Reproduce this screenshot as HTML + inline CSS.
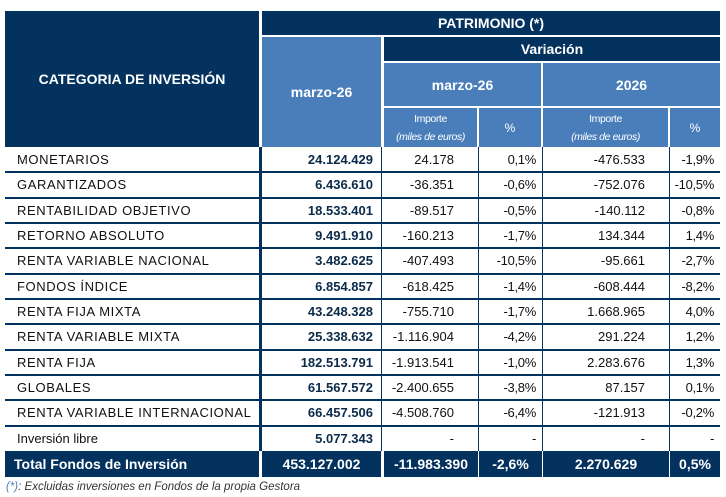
<!DOCTYPE html>
<html><head><meta charset="utf-8">
<style>
body{margin:0;width:726px;height:497px;background:#fff;position:relative;overflow:hidden;font-family:"Liberation Sans",sans-serif;}
.c{position:absolute;box-sizing:border-box;display:flex;align-items:center;justify-content:center;text-align:center;white-space:nowrap;}
.dk{background:#04325f;color:#fff;font-weight:bold;}
.md{background:#4a7ebb;color:#fff;}
.hl{position:absolute;background:#04325f;}
</style></head><body>
<div id="t"></div>
<div class="c" style="left:6px;top:478px;height:18px;justify-content:flex-start;font-style:italic;font-size:11.5px;color:#333;"><span style="color:#4a7ebb">(*)</span>: Excluidas inversiones en Fondos de la propia Gestora</div>
<script>
const categories=["MONETARIOS","GARANTIZADOS","RENTABILIDAD OBJETIVO","RETORNO ABSOLUTO","RENTA VARIABLE NACIONAL","FONDOS ÍNDICE","RENTA FIJA MIXTA","RENTA VARIABLE MIXTA","RENTA FIJA","GLOBALES","RENTA VARIABLE INTERNACIONAL","Inversión libre"];
const patrimonio=["24.124.429","6.436.610","18.533.401","9.491.910","3.482.625","6.854.857","43.248.328","25.338.632","182.513.791","61.567.572","66.457.506","5.077.343"];
const varMesImporte=["24.178","-36.351","-89.517","-160.213","-407.493","-618.425","-755.710","-1.116.904","-1.913.541","-2.400.655","-4.508.760","-"];
const varMesPct=["0,1%","-0,6%","-0,5%","-1,7%","-10,5%","-1,4%","-1,7%","-4,2%","-1,0%","-3,8%","-6,4%","-"];
const varAnoImporte=["-476.533","-752.076","-140.112","134.344","-95.661","-608.444","1.668.965","291.224","2.283.676","87.157","-121.913","-"];
const varAnoPct=["-1,9%","-10,5%","-0,8%","1,4%","-2,7%","-8,2%","4,0%","1,2%","1,3%","0,1%","-0,2%","-"];
const total=["Total Fondos de Inversión","453.127.002","-11.983.390","-2,6%","2.270.629","0,5%"];
const t=document.getElementById('t');
function cell(x,y,w,h,cls,html,name,style){const d=document.createElement('div');d.className='c '+cls;d.style.cssText=`left:${x}px;top:${y}px;width:${w}px;height:${h}px;`+(style||'');d.innerHTML=html;


t.appendChild(d);return d;}
cell(5,11,254,136,'dk','CATEGORIA DE INVERSIÓN','header-category','font-size:14px;');
cell(262,11,458,24,'dk','PATRIMONIO (*)','header-patrimonio','font-size:14px;');
cell(262,37,119,110,'md','marzo-26','header-patrimonio-month','font-size:14px;font-weight:bold;');
cell(384,37,336,24,'dk','Variación','header-variacion','font-size:14px;');
cell(384,63,157,43,'md','marzo-26','header-var-month','font-size:14px;font-weight:bold;');
cell(543,63,177,43,'md','2026','header-var-year','font-size:14px;font-weight:bold;');
const sub='<div style="line-height:18px;font-size:10.5px;letter-spacing:-0.4px">Importe<br><i>(miles de euros)</i></div>';
cell(384,108,93,39,'md',sub,'header-importe-month','');
cell(479,108,62,39,'md','%','header-pct-month','font-size:12px;');
cell(543,108,125,39,'md',sub,'header-importe-year','');
cell(670,108,50,39,'md','%','header-pct-year','font-size:12px;');
const cols=[[5,254],[262,119],[384,94],[479,63],[543,126],[670,50]];
const rowH=25.33,y0=147;
categories.forEach((c,i)=>{
 const y=y0+i*rowH;
 const vals=[c,patrimonio[i],varMesImporte[i],varMesPct[i],varAnoImporte[i],varAnoPct[i]];
 vals.forEach((v,j)=>{
  let st='font-size:13px;color:#111;';
  if(j==0) st+='justify-content:flex-start;padding-left:12px;'+(i<11?'letter-spacing:0.6px;':'');
  else if(j==1) st+='justify-content:flex-end;padding-right:8px;font-weight:bold;color:#0a2a4a;';
  else if(j==2||j==4) st+='justify-content:flex-end;padding-right:24px;';
  else st+='justify-content:flex-end;padding-right:6px;letter-spacing:-0.3px;';
  cell(cols[j][0],y,cols[j][1],rowH,'',v,'row-'+i+'-col-'+j,st);
 });
 if(i>0){const l=document.createElement('div');l.className='hl';l.style.cssText=`left:5px;top:${y-1}px;width:715px;height:2px;`;
 
 
 t.appendChild(l);}
});
[[259,3],[381,1],[478,1],[542,1],[669,1]].forEach(([x,w])=>{const l=document.createElement('div');l.className='hl';l.style.cssText=`left:${x}px;top:147px;width:${w}px;height:304px;`;


t.appendChild(l);});
cell(5,451,715,26,'dk','','total-row-bg','');
total.forEach((v,j)=>{
 let st='font-size:14px;';
 if(j==0) st+='justify-content:flex-start;padding-left:9px;';
 cell(cols[j][0],451,cols[j][1],26,'dk',v,'total-col-'+j,st);
});
[[259,3],[381,3],[478,1],[542,1],[669,1]].forEach(([x,w])=>{const l=document.createElement('div');l.style.cssText=`position:absolute;background:#fff;left:${x}px;top:451px;width:${w}px;height:26px;`;


t.appendChild(l);});
</script>
</body></html>
